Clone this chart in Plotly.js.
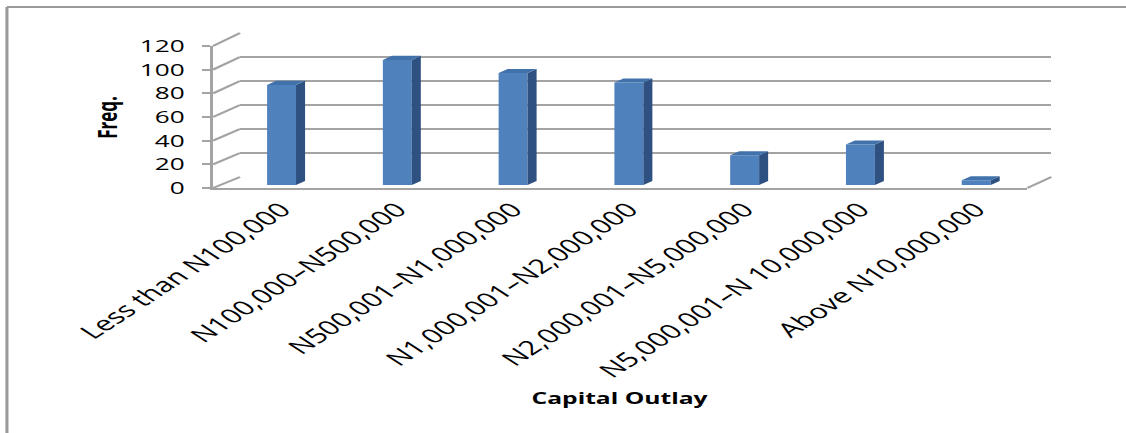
<!DOCTYPE html>
<html>
<head>
<meta charset="utf-8">
<script src="https://cdn.plot.ly/plotly-3.0.1.min.js"></script>
<style>
  html, body { margin: 0; padding: 0; background: #ffffff; overflow: hidden; }
  #wrap { width: 1126px; height: 433px; overflow: hidden; position: relative; }
  #chart { width: 731px; height: 433px; transform: scaleX(1.5404); transform-origin: 0 0; }
</style>
</head>
<body>
<div id="wrap"><div id="chart"></div></div>
<script>
// ---- data ----
const categories = [
  'Less than N100,000',
  'N100,000\u2013N500,000',
  'N500,001\u2013N1,000,000',
  'N1,000,001\u2013N2,000,000',
  'N2,000,001\u2013N5,000,000',
  'N5,000,001\u2013N 10,000,000',
  'Above N10,000,000'
];
const freq = [84, 105, 94, 86, 25, 34, 4];
const yTicks = [0, 20, 40, 60, 80, 100, 120];
const yMax = 120;

// ---- style / geometry (unstretched px, figure 731 x 433) ----
const W = 731, H = 433;
const px = v => v / W;
const py = v => 1 - v / H;
const frontDomX = [px(138.3), px(666.9)];
const frontDomY = [py(188), py(46)];
const backDomX = [px(155.8), px(682.5)];
const backDomY = [py(177), py(33)];
const barDomX = [px(145.2), px(671.3)];
const barDomY = [py(185), py(42)];
const barW = 0.25, depthX = 0.078, depthY = 3.4;
const frontCol = '#4F81BD', sideCol = '#2E5182', topCol = '#4272AC';
const lineCol = '#A3A3A3';
const font = 'Open Sans, Noto Sans, Liberation Sans, sans-serif';

const idx = categories.map((_, i) => i);

const traces = [];
// invisible trace to host back-wall grid subplot
traces.push({x: [0], y: [0], xaxis: 'x', yaxis: 'y', mode: 'markers',
  marker: {opacity: 0}, hoverinfo: 'skip', showlegend: false});
// front faces
traces.push({type: 'bar', x: idx, y: freq, width: barW, xaxis: 'x2', yaxis: 'y2',
  marker: {color: frontCol, line: {width: 0}}, showlegend: false});
// side and top faces
freq.forEach((v, i) => {
  const r = i + barW / 2, l = i - barW / 2;
  traces.push({x: [r, r + depthX, r + depthX, r, r], y: [0, depthY, v + depthY, v, 0],
    xaxis: 'x2', yaxis: 'y2', mode: 'lines', fill: 'toself', fillcolor: sideCol,
    line: {width: 0, color: sideCol}, hoverinfo: 'skip', showlegend: false});
  traces.push({x: [l, r, r + depthX, l + depthX, l], y: [v, v, v + depthY, v + depthY, v],
    xaxis: 'x2', yaxis: 'y2', mode: 'lines', fill: 'toself', fillcolor: topCol,
    line: {width: 0, color: topCol}, hoverinfo: 'skip', showlegend: false});
});
// front axis host
traces.push({x: [0], y: [0], xaxis: 'x3', yaxis: 'y3', mode: 'markers',
  marker: {opacity: 0}, hoverinfo: 'skip', showlegend: false});

// perspective connectors between front axis and back wall
const fy = v => frontDomY[0] + v / yMax * (frontDomY[1] - frontDomY[0]);
const by = v => backDomY[0] + v / yMax * (backDomY[1] - backDomY[0]);
const shapes = yTicks.map(v => ({type: 'line', xref: 'paper', yref: 'paper',
  x0: frontDomX[0], y0: fy(v), x1: backDomX[0], y1: by(v),
  line: {color: lineCol, width: 2}, layer: 'below'}));
shapes.push({type: 'line', xref: 'paper', yref: 'paper',
  x0: frontDomX[1], y0: fy(0), x1: backDomX[1], y1: by(0),
  line: {color: lineCol, width: 2}, layer: 'below'});
// outer frame (top and left)
shapes.push({type: 'line', xref: 'paper', yref: 'paper', x0: px(4.5), y0: py(7), x1: 1, y1: py(7),
  line: {color: '#9A9A9A', width: 2}});
shapes.push({type: 'line', xref: 'paper', yref: 'paper', x0: px(4.5), y0: py(7), x1: px(4.5), y1: 0,
  line: {color: '#9A9A9A', width: 2}});

const layout = {
  width: W, height: H,
  margin: {l: 0, r: 0, t: 0, b: 0},
  paper_bgcolor: '#ffffff', plot_bgcolor: 'rgba(0,0,0,0)',
  showlegend: false,
  font: {family: font, color: '#000000'},
  xaxis: {domain: backDomX, range: [0, 1], visible: false, fixedrange: true},
  yaxis: {domain: backDomY, range: [0, yMax], tickvals: yTicks, showgrid: true,
    gridcolor: lineCol, gridwidth: 2, showticklabels: false, zeroline: false,
    showline: false, ticks: '', automargin: false},
  xaxis2: {domain: barDomX, range: [-0.5, 6.5], tickvals: idx, ticktext: categories,
    tickangle: -45, tickfont: {size: 20, family: font, color: '#000'}, showgrid: false,
    zeroline: false, showline: false, ticks: '', ticklabelstandoff: 8, automargin: false,
    anchor: 'y2'},
  yaxis2: {domain: barDomY, range: [0, yMax], visible: false, anchor: 'x2'},
  xaxis3: {domain: frontDomX, range: [0, 1], showline: true, linecolor: lineCol, linewidth: 2,
    showticklabels: false, ticks: '', showgrid: false, zeroline: false, anchor: 'y3',
    automargin: false},
  yaxis3: {domain: frontDomY, range: [0, yMax], tickvals: yTicks, showline: true,
    linecolor: lineCol, linewidth: 2, ticks: 'outside', ticklen: 5, tickwidth: 2,
    tickcolor: lineCol, showgrid: false, zeroline: false,
    tickfont: {size: 17, family: font, color: '#000'}, ticklabelstandoff: 8,
    anchor: 'x3', automargin: false},
  shapes: shapes,
  annotations: [
    {text: '<b>Capital Outlay</b>', xref: 'paper', yref: 'paper', x: px(402.6), y: py(398),
     xanchor: 'center', yanchor: 'middle', showarrow: false,
     font: {size: 16, family: font, color: '#000'}},
    {text: '<b>Freq.</b>', xref: 'paper', yref: 'paper', x: px(68.8), y: py(117),
     xanchor: 'center', yanchor: 'middle', showarrow: false, textangle: -90,
     font: {size: 17, family: font, color: '#000'}}
  ]
};

Plotly.newPlot('chart', traces, layout, {staticPlot: true, displayModeBar: false});
</script>
</body>
</html>
